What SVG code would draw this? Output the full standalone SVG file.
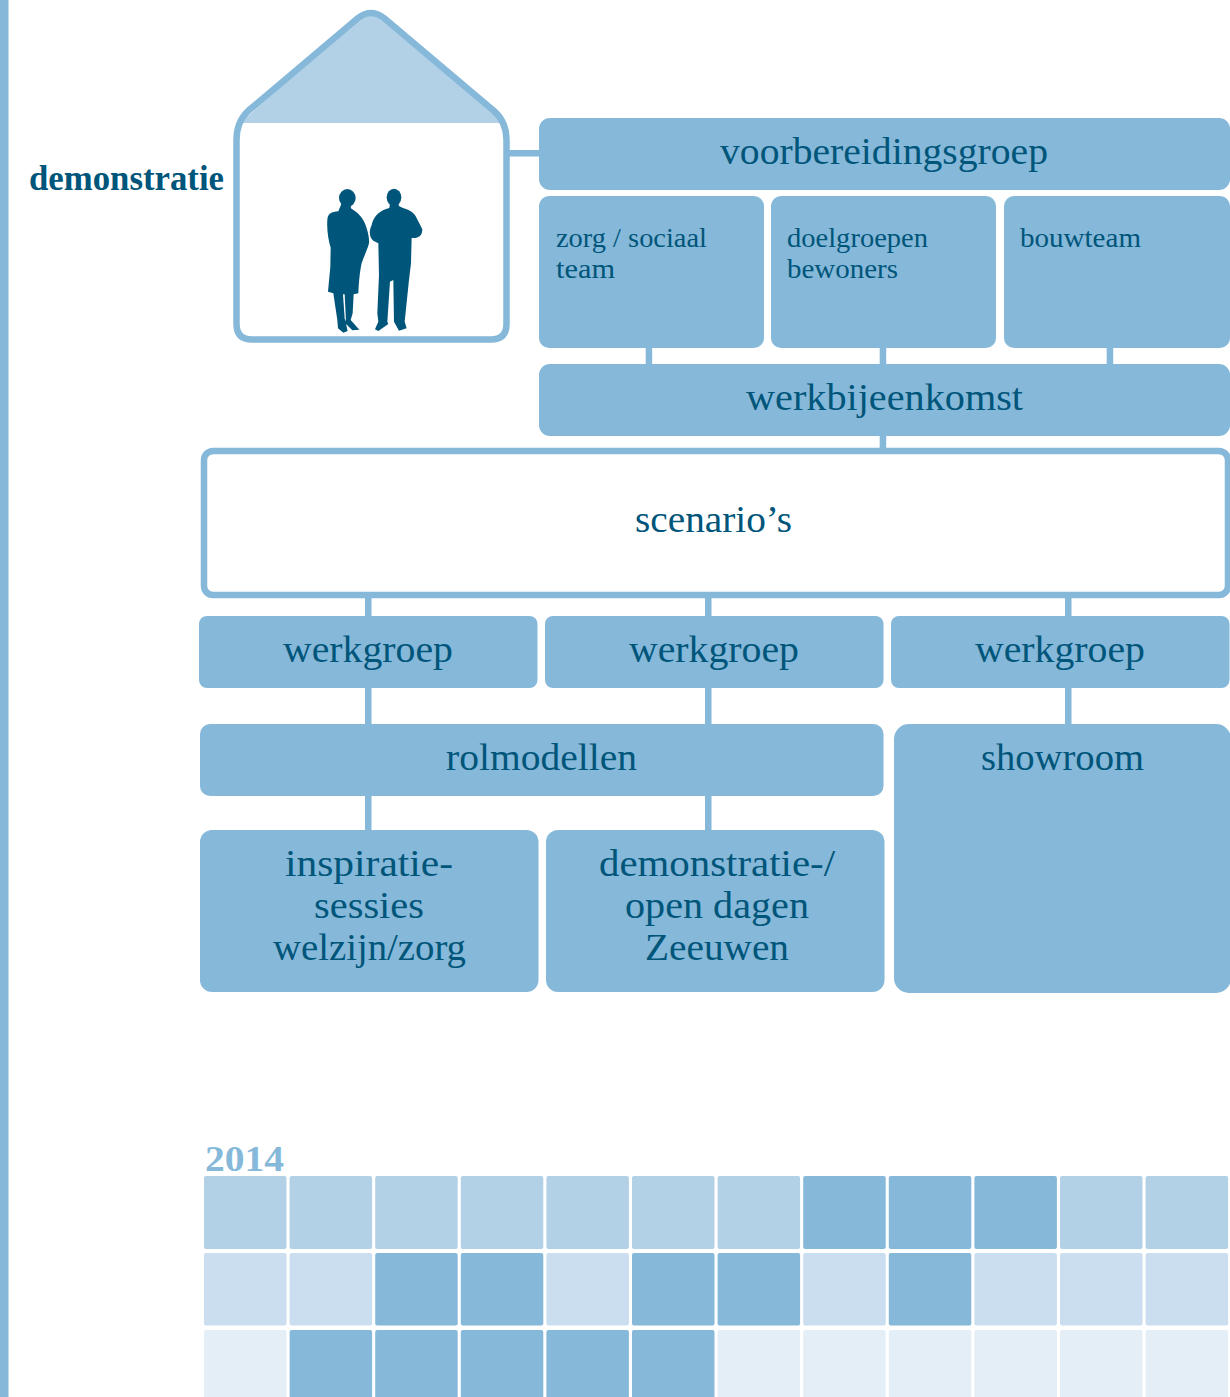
<svg xmlns="http://www.w3.org/2000/svg" width="1230" height="1397" viewBox="0 0 1230 1397">
<style>
.b{fill:#85b8d9}
.l1{fill:#b3d1e6}.l2{fill:#cadeef}.l3{fill:#e4eef7}
text{font-family:"Liberation Serif","DejaVu Serif",serif;fill:#00557a}
.t{font-size:37px}
.s{font-size:27px}
.c{fill:#85b8d9}
</style>
<rect width="1230" height="1397" fill="#fff"/>
<rect id="left-bar" x="0" y="0" width="8.5" height="1397" class="b"/>
<g id="connectors" class="c">
<rect x="506" y="150" width="35" height="6.5"/>
<rect x="645.7" y="346" width="6.5" height="20"/>
<rect x="879.7" y="346" width="6.5" height="20"/>
<rect x="1106.7" y="346" width="6.5" height="20"/>
<rect x="879.7" y="434" width="6.5" height="16"/>
<rect x="365" y="596" width="6.5" height="22"/>
<rect x="705" y="596" width="6.5" height="22"/>
<rect x="1065" y="596" width="6.5" height="22"/>
<rect x="365" y="686" width="6.5" height="40"/>
<rect x="705" y="686" width="6.5" height="40"/>
<rect x="1065" y="686" width="6.5" height="40"/>
<rect x="365" y="794" width="6.5" height="38"/>
<rect x="705" y="794" width="6.5" height="38"/>
</g>
<text id="label-demonstratie" x="29" y="190" font-size="35" font-weight="bold" textLength="195" lengthAdjust="spacingAndGlyphs">demonstratie</text>
<g id="house">
<path d="M240,123 L358,18 Q371,8 384,18 L503,123Z" class="l1"/>
<path d="M252,339.5 H491 Q506.5,339.5 506.5,324 V140 Q506.5,122 494,111 L384,18 Q371,8 358,18 L248,111 Q236.5,122 236.5,140 V324 Q236.5,339.5 252,339.5Z" fill="none" stroke="#85b8d9" stroke-width="6.5"/>
<g transform="translate(310,180) scale(.3333)" fill="#00557a">
<ellipse cx="112" cy="54" rx="25" ry="27"/>
<ellipse cx="252" cy="52" rx="22" ry="26"/>
<path d="M95,70 L125,70 L122,84 C135,93 152,103 164,128 C172,148 179,172 177,190 C172,210 162,228 155,250 C150,272 147,300 145,340 L131,343 L128,400 L122,420 L148,449 L127,451 L108,432 L113,453 L100,458 L84,445 L82,420 L70,340 L54,335 L61,260 L62,203 C55,180 50,150 52,120 C53,100 65,96 85,94Z"/>
<path d="M240,70 L265,70 L267,78 C285,88 308,90 318,110 L337,148 C337,168 325,176 305,174 L303,250 L297,300 L284,425 L290,445 L267,452 L252,425 L250,300 L240,305 L232,425 L235,432 L205,453 L195,448 L205,425 L202,400 L207,285 L205,190 L190,182 C178,172 176,155 185,135 C192,105 210,92 238,84Z"/>
<path d="M99,343 L104,343 L108,425 L104,415Z" fill="#fff"/>
</g>
</g>
<g id="voorbereidingsgroep"><rect x="539" y="118" width="691" height="72" rx="11" class="b"/><text class="t" x="720" y="164" textLength="328" lengthAdjust="spacingAndGlyphs">voorbereidingsgroep</text></g>
<g id="zorg"><rect x="539" y="196" width="225" height="152" rx="10" class="b"/><text class="s" x="556" y="247" textLength="151" lengthAdjust="spacingAndGlyphs">zorg / sociaal</text><text class="s" x="556" y="278" textLength="59" lengthAdjust="spacingAndGlyphs">team</text></g>
<g id="doelgroepen"><rect x="771" y="196" width="225" height="152" rx="10" class="b"/><text class="s" x="787" y="247" textLength="141" lengthAdjust="spacingAndGlyphs">doelgroepen</text><text class="s" x="787" y="278" textLength="111" lengthAdjust="spacingAndGlyphs">bewoners</text></g>
<g id="bouwteam"><rect x="1004" y="196" width="226" height="152" rx="10" class="b"/><text class="s" x="1020" y="247" textLength="121" lengthAdjust="spacingAndGlyphs">bouwteam</text></g>
<g id="werkbijeenkomst"><rect x="539" y="364" width="691" height="72" rx="11" class="b"/><text class="t" x="746" y="410" textLength="277" lengthAdjust="spacingAndGlyphs">werkbijeenkomst</text></g>
<g id="scenarios"><rect x="204" y="451" width="1024" height="144" rx="9" fill="#fff" stroke="#85b8d9" stroke-width="6.5"/><text class="t" x="635" y="532" textLength="157" lengthAdjust="spacingAndGlyphs">scenario’s</text></g>
<g id="werkgroep1"><rect x="199" y="616" width="338.5" height="72" rx="8" class="b"/><text class="t" x="283" y="662" textLength="170" lengthAdjust="spacingAndGlyphs">werkgroep</text></g>
<g id="werkgroep2"><rect x="545" y="616" width="338.5" height="72" rx="8" class="b"/><text class="t" x="629" y="662" textLength="170" lengthAdjust="spacingAndGlyphs">werkgroep</text></g>
<g id="werkgroep3"><rect x="891" y="616" width="338.5" height="72" rx="8" class="b"/><text class="t" x="975" y="662" textLength="170" lengthAdjust="spacingAndGlyphs">werkgroep</text></g>
<g id="rolmodellen"><rect x="200" y="724" width="683.5" height="72" rx="10" class="b"/><text class="t" x="446" y="770" textLength="191" lengthAdjust="spacingAndGlyphs">rolmodellen</text></g>
<g id="showroom"><rect x="894" y="724" width="337" height="269" rx="15" class="b"/><text class="t" x="981" y="770" textLength="163" lengthAdjust="spacingAndGlyphs">showroom</text></g>
<g id="inspiratie"><rect x="200" y="830" width="338.5" height="162" rx="12" class="b"/><text class="t" x="285" y="876" textLength="168" lengthAdjust="spacingAndGlyphs">inspiratie-</text><text class="t" x="314" y="918" textLength="110" lengthAdjust="spacingAndGlyphs">sessies</text><text class="t" x="273" y="960" textLength="193" lengthAdjust="spacingAndGlyphs">welzijn/zorg</text></g>
<g id="demodagen"><rect x="546" y="830" width="338.5" height="162" rx="12" class="b"/><text class="t" x="599" y="876" textLength="236" lengthAdjust="spacingAndGlyphs">demonstratie-/</text><text class="t" x="625" y="918" textLength="184" lengthAdjust="spacingAndGlyphs">open dagen</text><text class="t" x="645" y="960" textLength="144" lengthAdjust="spacingAndGlyphs">Zeeuwen</text></g>
<g id="calendar">
<text x="205" y="1171" font-size="36" font-weight="bold" style="fill:#85b8d9" textLength="79" lengthAdjust="spacingAndGlyphs">2014</text>
<g class="l1">
<rect x="204" y="1176" width="82.5" height="73" rx="2"/><rect x="289.6" y="1176" width="82.5" height="73" rx="2"/><rect x="375.2" y="1176" width="82.5" height="73" rx="2"/><rect x="460.8" y="1176" width="82.5" height="73" rx="2"/><rect x="546.4" y="1176" width="82.5" height="73" rx="2"/><rect x="632" y="1176" width="82.5" height="73" rx="2"/><rect x="717.6" y="1176" width="82.5" height="73" rx="2"/><rect x="1060.0" y="1176" width="82.5" height="73" rx="2"/><rect x="1145.6" y="1176" width="82.5" height="73" rx="2"/>
</g>
<g class="b">
<rect x="803.2" y="1176" width="82.5" height="73" rx="2"/><rect x="888.8" y="1176" width="82.5" height="73" rx="2"/><rect x="974.4" y="1176" width="82.5" height="73" rx="2"/>
<rect x="375.2" y="1253" width="82.5" height="72.5" rx="2"/><rect x="460.8" y="1253" width="82.5" height="72.5" rx="2"/><rect x="632" y="1253" width="82.5" height="72.5" rx="2"/><rect x="717.6" y="1253" width="82.5" height="72.5" rx="2"/><rect x="888.8" y="1253" width="82.5" height="72.5" rx="2"/>
<rect x="289.6" y="1330" width="82.5" height="72" rx="2"/><rect x="375.2" y="1330" width="82.5" height="72" rx="2"/><rect x="460.8" y="1330" width="82.5" height="72" rx="2"/><rect x="546.4" y="1330" width="82.5" height="72" rx="2"/><rect x="632" y="1330" width="82.5" height="72" rx="2"/>
</g>
<g class="l2">
<rect x="204" y="1253" width="82.5" height="72.5" rx="2"/><rect x="289.6" y="1253" width="82.5" height="72.5" rx="2"/><rect x="546.4" y="1253" width="82.5" height="72.5" rx="2"/><rect x="803.2" y="1253" width="82.5" height="72.5" rx="2"/><rect x="974.4" y="1253" width="82.5" height="72.5" rx="2"/><rect x="1060" y="1253" width="82.5" height="72.5" rx="2"/><rect x="1145.6" y="1253" width="82.5" height="72.5" rx="2"/>
</g>
<g class="l3">
<rect x="204" y="1330" width="82.5" height="72" rx="2"/><rect x="717.6" y="1330" width="82.5" height="72" rx="2"/><rect x="803.2" y="1330" width="82.5" height="72" rx="2"/><rect x="888.8" y="1330" width="82.5" height="72" rx="2"/><rect x="974.4" y="1330" width="82.5" height="72" rx="2"/><rect x="1060" y="1330" width="82.5" height="72" rx="2"/><rect x="1145.6" y="1330" width="82.5" height="72" rx="2"/>
</g>
</g>
</svg>
